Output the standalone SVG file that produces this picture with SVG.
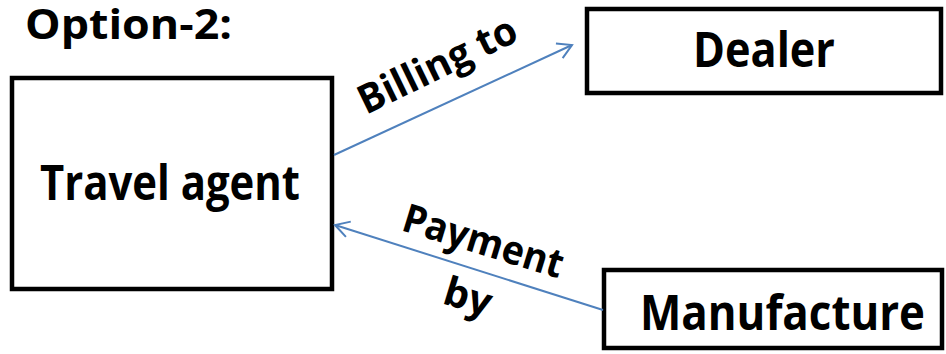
<svg xmlns="http://www.w3.org/2000/svg" width="946" height="354" viewBox="0 0 946 354">
<style>
.box{fill:#fff;stroke:#000;stroke-width:4.5}
.t{font-family:"Open Sans","Noto Sans","Liberation Sans",sans-serif;font-weight:bold;fill:#000}
.c{stroke:#4f81bd;stroke-width:2;fill:none}
</style>
<defs>
<marker id="arr" viewBox="0 0 20 20" refX="18" refY="10" markerWidth="20" markerHeight="20" markerUnits="userSpaceOnUse" orient="auto">
<path d="M4,2 L18,10 L4,18" fill="none" stroke="#4f81bd" stroke-width="2"/>
</marker>
</defs>
<text class="t" x="25" y="39" font-size="41" textLength="207" lengthAdjust="spacingAndGlyphs">Option-2:</text>
<g id="travel-agent">
<rect class="box" x="12" y="78" width="320" height="211"/>
<text class="t" x="40" y="200" font-size="48" textLength="260" lengthAdjust="spacingAndGlyphs">Travel agent</text>
</g>
<g id="dealer">
<rect class="box" x="587" y="9" width="354" height="84"/>
<text class="t" x="693" y="67" font-size="48" textLength="142" lengthAdjust="spacingAndGlyphs">Dealer</text>
</g>
<g id="manufacture">
<rect class="box" x="604" y="270" width="338" height="78"/>
<text class="t" x="640" y="330" font-size="48" textLength="285" lengthAdjust="spacingAndGlyphs">Manufacture</text>
</g>
<g id="connectors">
<line class="c" x1="334" y1="155" x2="572" y2="45" marker-end="url(#arr)"/>
<line class="c" x1="603" y1="310" x2="335" y2="225" marker-end="url(#arr)"/>
<text class="t" font-size="40" transform="translate(366,115) rotate(-26)" textLength="172" lengthAdjust="spacingAndGlyphs">Billing to</text>
<text class="t" font-size="40" transform="translate(400,230) rotate(17)" textLength="166" lengthAdjust="spacingAndGlyphs">Payment</text>
<text class="t" font-size="40" transform="translate(441,303) rotate(17)" textLength="48" lengthAdjust="spacingAndGlyphs">by</text>
</g>
</svg>
